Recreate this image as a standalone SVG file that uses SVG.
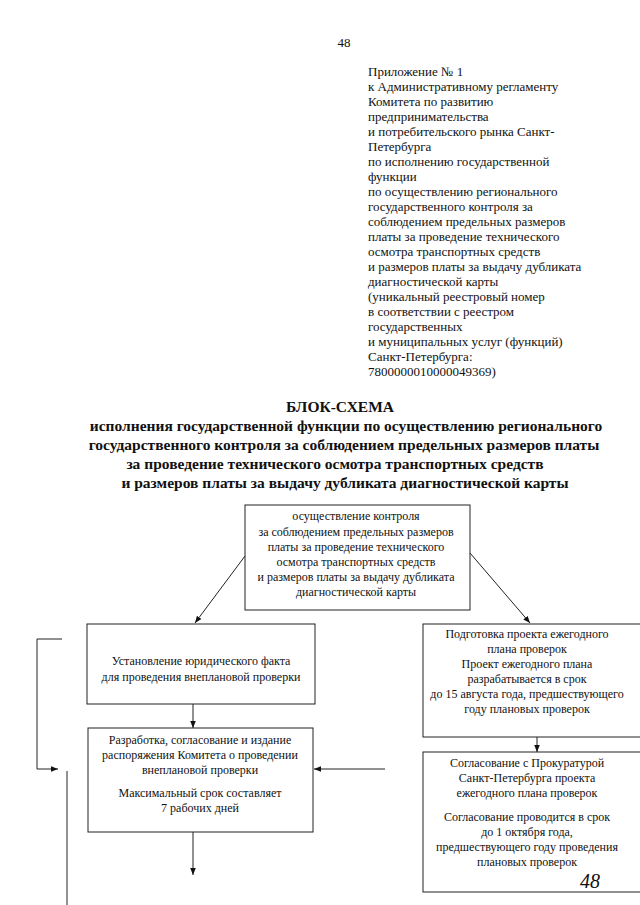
<svg xmlns="http://www.w3.org/2000/svg" width="640" height="905" viewBox="0 0 640 905">
<style>
text{font-family:"Liberation Serif","Times New Roman",serif;fill:#111}
.hd{font-size:13px}
.tt{font-size:15.5px;font-weight:bold;text-anchor:middle}
.bx{font-size:12px;text-anchor:middle}
.box{fill:#fff;stroke:#222;stroke-width:1}
.ln{fill:none;stroke:#222;stroke-width:1}
</style>
<defs>
<marker id="ah" viewBox="0 0 10 10" refX="10" refY="5" markerWidth="7" markerHeight="7" orient="auto" markerUnits="userSpaceOnUse">
<path d="M0,1 L10,5 L0,9 z" fill="#111"/>
</marker>
</defs>
<rect width="640" height="905" fill="#fff"/>
<text x="344" y="47" class="hd" text-anchor="middle">48</text>
<g id="header">
<text class="hd" x="368" y="76">Приложение № 1</text>
<text class="hd" x="368" y="91">к Административному регламенту</text>
<text class="hd" x="368" y="106">Комитета по развитию</text>
<text class="hd" x="368" y="121">предпринимательства</text>
<text class="hd" x="368" y="136">и потребительского рынка Санкт-</text>
<text class="hd" x="368" y="151">Петербурга</text>
<text class="hd" x="368" y="166">по исполнению государственной</text>
<text class="hd" x="368" y="181">функции</text>
<text class="hd" x="368" y="196">по осуществлению регионального</text>
<text class="hd" x="368" y="211">государственного контроля за</text>
<text class="hd" x="368" y="226">соблюдением предельных размеров</text>
<text class="hd" x="368" y="241">платы за проведение технического</text>
<text class="hd" x="368" y="256">осмотра транспортных средств</text>
<text class="hd" x="368" y="271">и размеров платы за выдачу дубликата</text>
<text class="hd" x="368" y="286">диагностической карты</text>
<text class="hd" x="368" y="301">(уникальный реестровый номер</text>
<text class="hd" x="368" y="316">в соответствии с реестром</text>
<text class="hd" x="368" y="331">государственных</text>
<text class="hd" x="368" y="346">и муниципальных услуг (функций)</text>
<text class="hd" x="368" y="361">Санкт-Петербурга:</text>
<text class="hd" x="368" y="376">7800000010000049369)</text>
</g>
<g id="title">
<text class="tt" x="340" y="412">БЛОК-СХЕМА</text>
<text class="tt" x="346" y="431">исполнения государственной функции по осуществлению регионального</text>
<text class="tt" x="344" y="450">государственного контроля за соблюдением предельных размеров платы</text>
<text class="tt" x="335" y="469">за проведение технического осмотра транспортных средств</text>
<text class="tt" x="345" y="488">и размеров платы за выдачу дубликата диагностической карты</text>
</g>
<g id="node-control">
<rect class="box" x="245" y="505" width="225" height="105"/>
<text class="bx" x="356" y="520">осуществление контроля</text>
<text class="bx" x="356" y="536">за соблюдением предельных размеров</text>
<text class="bx" x="356" y="551">платы за проведение технического</text>
<text class="bx" x="356" y="566">осмотра транспортных средств</text>
<text class="bx" x="356" y="581">и размеров платы за выдачу дубликата</text>
<text class="bx" x="356" y="596">диагностической карты</text>
</g>
<g id="node-fact">
<rect class="box" x="87" y="624" width="228" height="80"/>
<text class="bx" x="201" y="665">Установление юридического факта</text>
<text class="bx" x="201" y="681">для проведения внеплановой проверки</text>
</g>
<g id="node-order">
<rect class="box" x="88" y="728" width="225" height="104"/>
<text class="bx" x="200" y="744">Разработка, согласование и издание</text>
<text class="bx" x="200" y="759">распоряжения Комитета о проведении</text>
<text class="bx" x="200" y="774">внеплановой проверки</text>
<text class="bx" x="200" y="797">Максимальный срок составляет</text>
<text class="bx" x="200" y="812">7 рабочих дней</text>
</g>
<g id="node-plan">
<rect class="box" x="423" y="624" width="240" height="113"/>
<text class="bx" x="527" y="638">Подготовка проекта ежегодного</text>
<text class="bx" x="527" y="653">плана проверок</text>
<text class="bx" x="527" y="668">Проект ежегодного плана</text>
<text class="bx" x="527" y="683">разрабатывается в срок</text>
<text class="bx" x="527" y="698">до 15 августа года, предшествующего</text>
<text class="bx" x="527" y="713">году плановых проверок</text>
</g>
<g id="node-approve">
<rect class="box" x="423" y="752" width="240" height="140"/>
<text class="bx" x="527" y="767">Согласование с Прокуратурой</text>
<text class="bx" x="527" y="782">Санкт-Петербурга проекта</text>
<text class="bx" x="527" y="797">ежегодного плана проверок</text>
<text class="bx" x="527" y="821">Согласование проводится в срок</text>
<text class="bx" x="527" y="836">до 1 октября года,</text>
<text class="bx" x="527" y="851">предшествующего году проведения</text>
<text class="bx" x="527" y="866">плановых проверок</text>
</g>
<g id="connectors">
<line class="ln" x1="245" y1="556" x2="195" y2="623" marker-end="url(#ah)"/>
<line class="ln" x1="470" y1="553" x2="530" y2="623" marker-end="url(#ah)"/>
<line class="ln" x1="193" y1="704" x2="193" y2="728" marker-end="url(#ah)"/>
<line class="ln" x1="537" y1="737" x2="537" y2="752" marker-end="url(#ah)"/>
<line class="ln" x1="385" y1="769" x2="314" y2="769" marker-end="url(#ah)"/>
<polyline class="ln" points="62,639 37,639 37,769 58,769" marker-end="url(#ah)"/>
<line class="ln" x1="67" y1="771" x2="67" y2="905"/>
<line class="ln" x1="193" y1="832" x2="193" y2="875" marker-end="url(#ah)"/>
</g>
<text x="590" y="888" style="font-size:20px;font-style:italic" text-anchor="middle">48</text>
</svg>
